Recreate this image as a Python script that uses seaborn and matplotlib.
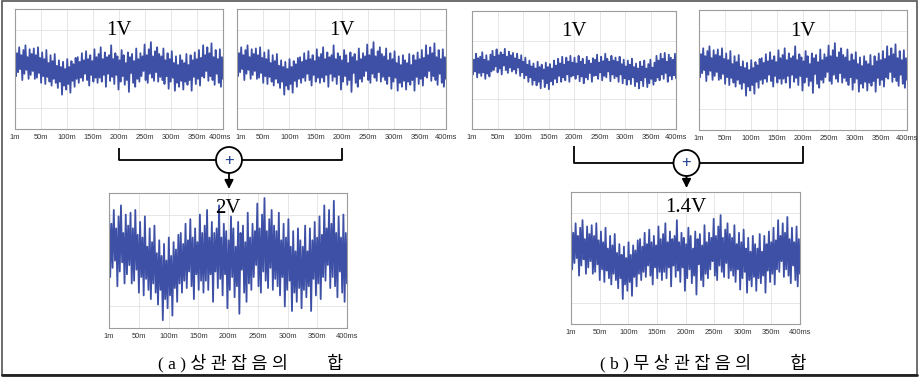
"""
Correlated vs. uncorrelated noise summation diagram
- four 1V scope traces on top, summing node, resulting trace below
"""
import numpy as np
import matplotlib.pyplot as plt
import matplotlib.transforms as mtransforms
import seaborn as sns
from matplotlib.patches import Circle, Rectangle

sns.set_style("white")
plt.rcParams["font.family"] = ["Liberation Sans", "DejaVu Sans"]

W, H = 921, 379

# Correlated noise trace (units: 0.01 V)
CORR_NOISE = [
    62, -18, 40, -8, 55, 0, 35, -28, 48, -12, 60, -2, 30, -25, 50, -15, 38, -5, 52, -25,
    35, -22, 55, -10, 28, -35, 42, -18, 25, -38, 48, -20, 15, -32, 35, -42, 20, -25, 38, -35,
    8, -48, 22, -32, 5, -65, 18, -42, 0, -52, 25, -38, 5, -60, 20, -30, 12, -45, 28, -25,
    30, -35, 18, -22, 40, -30, 22, -12, 45, -28, 25, -42, 35, -15, 20, -32, 50, -22, 30, -35,
    38, -22, 55, -32, 25, -15, 42, -45, 30, -12, 35, -30, 60, -20, 25, -38, 40, -15, 32, -52,
    22, -32, 48, -18, 35, -40, 15, -28, 42, -58, 30, -10, 38, -35, 20, -45, 52, -25, 25, -32,
    40, -18, 32, -5, 62, -28, 35, -35, 50, -12, 68, -22, 32, -30, 45, -8, 55, -32, 38, -20,
    32, -28, 52, -38, 22, -18, 40, -50, 25, -32, 45, -22, 15, -55, 32, -35, 10, -45, 35, -30,
    22, -52, 15, -32, 38, -40, 10, -28, 35, -55, 22, -20, 42, -38, 25, -25, 48, -42, 28, -18,
    60, -22, 35, -5, 55, -30, 40, -18, 65, -28, 30, -40, 48, -12, 25, -35, 50, -45, 30, -25,
]

# Uncorrelated noise trace, (b) left 1V panel (units: 0.01 V)
UNCORR_NOISE = [
    50, -15, 35, -5, 55, -25, 40, -10, 45, -20, 60, -8, 35, -30, 50, -12, 30, -22, 52, -5,
    65, 0, 45, 12, 70, -8, 50, 5, 60, -15, 52, 15, 72, 0, 45, -10, 62, 8, 50, -5,
    58, 2, 40, -12, 55, 8, 35, -20, 50, -8, 28, -28, 42, -18, 18, -40, 32, -25, 12, -50,
    22, -35, 5, -52, 28, -40, 10, -62, 18, -30, 2, -58, 25, -45, 10, -65, 20, -38, 5, -50,
    32, -30, 15, -42, 38, -20, 22, -40, 45, -25, 18, -35, 42, -15, 28, -40, 48, -22, 25, -18,
    42, -30, 22, -15, 48, -38, 28, -22, 38, -45, 18, -25, 45, -32, 32, -10, 22, -40, 40, -20,
    35, -18, 52, -30, 25, -8, 45, -35, 30, -20, 55, -25, 38, -5, 28, -38, 48, -15, 32, -28,
    42, -22, 28, -40, 45, -15, 20, -45, 35, -28, 12, -50, 32, -32, 18, -48, 38, -25, 10, -55,
    22, -40, 5, -62, 28, -35, 12, -55, 32, -25, 5, -58, 20, -45, 35, -30, 8, -50, 25, -38,
    48, -25, 32, -35, 55, -15, 38, -30, 58, -10, 28, -40, 52, -20, 42, -32, 35, -18, 55, -28,
]

TICK_POS = [0, 50, 100, 150, 200, 250, 300, 350, 400]
TICK_LABELS = ["1m", "50m", "100m", "150m", "200m", "250m", "300m", "350m", "400ms"]
CAPTIONS = ["( a ) 상 관 잡 음 의         합", "( b ) 무 상 관 잡 음 의         합"]

corr = np.array(CORR_NOISE) / 100.0
uncorr = np.array(UNCORR_NOISE) / 100.0
t = np.linspace(0, 400, len(corr))

TRACE_COLOR = "#3d50a6"

# panel boxes in pixels: (left, top, right, bottom), signal, y half-range, label, label y
panels = {
    "a_left":  dict(box=(15, 9, 223, 129), sig=corr, ylim=1.52, label="1V", ly=0.82),
    "a_right": dict(box=(237, 9, 446, 129), sig=corr, ylim=1.52, label="1V", ly=0.82),
    "b_left":  dict(box=(472, 11, 676, 129), sig=uncorr, ylim=2.0, label="1V", ly=0.83),
    "b_right": dict(box=(699, 10, 907, 130), sig=corr, ylim=1.52, label="1V", ly=0.82),
    # correlated sources add in amplitude
    "a_sum":   dict(box=(109, 193, 347, 328), sig=2 * corr, ylim=1.47, label="2V", ly=0.885),
    # uncorrelated sources add in power -> sqrt(2)
    "b_sum":   dict(box=(571, 192, 800, 324), sig=np.sqrt(2) * corr, ylim=1.48, label="1.4V", ly=0.88),
}


def px_rect(box):
    l, tp, r, b = box
    return [l / W, 1 - b / H, (r - l) / W, (b - tp) / H]


fig = plt.figure(figsize=(W / 100, H / 100), dpi=100)

# overlay in pixel coordinates for frame, connectors and captions
bg = fig.add_axes([0, 0, 1, 1], zorder=0)
bg.set_xlim(0, W)
bg.set_ylim(H, 0)
bg.axis("off")

axes = {}
for name, p in panels.items():
    ax = fig.add_axes(px_rect(p["box"]), zorder=2)
    sns.lineplot(x=t, y=p["sig"], ax=ax, color=TRACE_COLOR, lw=1.3)
    ax.set_xlim(0, 400)
    ax.set_ylim(-p["ylim"], p["ylim"])
    ax.set_xticks(TICK_POS)
    ax.set_xticklabels(TICK_LABELS)
    ax.set_yticks([-1, 0, 1])
    ax.set_yticklabels([])
    ax.tick_params(axis="both", length=0, labelsize=5.4, labelcolor="#333333", pad=3.5)
    ax.grid(True, color="#e2e2e2", lw=0.6)
    ax.set_axisbelow(True)
    for s in ax.spines.values():
        s.set_color("#9c9c9c")
        s.set_linewidth(0.8)
    ax.text(0.5, p["ly"], p["label"], transform=ax.transAxes, ha="center", va="center",
            fontsize=15, family="Liberation Serif", color="black", zorder=5)
    axes[name] = ax

# the two (a) panels sit close together: nudge the touching end labels apart
nudge = -2.5 / 72
for name in ["a_left"]:
    lab = axes[name].get_xticklabels()[-1]
    lab.set_transform(lab.get_transform() + mtransforms.ScaledTranslation(nudge, 0, fig.dpi_scale_trans))
for name in ["a_right"]:
    lab = axes[name].get_xticklabels()[0]
    lab.set_transform(lab.get_transform() + mtransforms.ScaledTranslation(-nudge, 0, fig.dpi_scale_trans))

# summing connectors
def connector(left_name, right_name, sum_name, y_top, y_node):
    bl, br, bs = panels[left_name]["box"], panels[right_name]["box"], panels[sum_name]["box"]
    xl = (bl[0] + bl[2]) / 2
    xr = (br[0] + br[2]) / 2
    xc = (bs[0] + bs[2]) / 2 + 1
    r = 13
    kw = dict(color="black", lw=1.3, solid_capstyle="butt")
    bg.plot([xl, xl, xc - r], [y_top, y_node, y_node], **kw)
    bg.plot([xr, xr, xc + r], [y_top, y_node, y_node], **kw)
    bg.add_patch(Circle((xc, y_node), r, facecolor="white", edgecolor="black", lw=1.3))
    bg.text(xc, y_node, "+", ha="center", va="center", fontsize=12, color="#1f3f8f")
    bg.annotate("", xy=(xc, bs[1] - 4), xytext=(xc, y_node + r),
                arrowprops=dict(arrowstyle="-|>", color="black", lw=1.3, mutation_scale=13,
                                shrinkA=0, shrinkB=0))


connector("a_left", "a_right", "a_sum", 148, 160)
connector("b_left", "b_right", "b_sum", 146, 163)

# captions
for x, cap in zip([251, 703], CAPTIONS):
    bg.text(x, 363, cap, ha="center", va="center", fontsize=12.5,
            family=["Liberation Serif", "Noto Sans CJK KR"], color="black")

# outer frame
bg.add_patch(Rectangle((2, 1), 915, 374, fill=False, edgecolor="#555555", lw=1.2))
bg.plot([2, 917], [375, 375], color="#222222", lw=2)

fig.savefig("out.png", dpi=100)
